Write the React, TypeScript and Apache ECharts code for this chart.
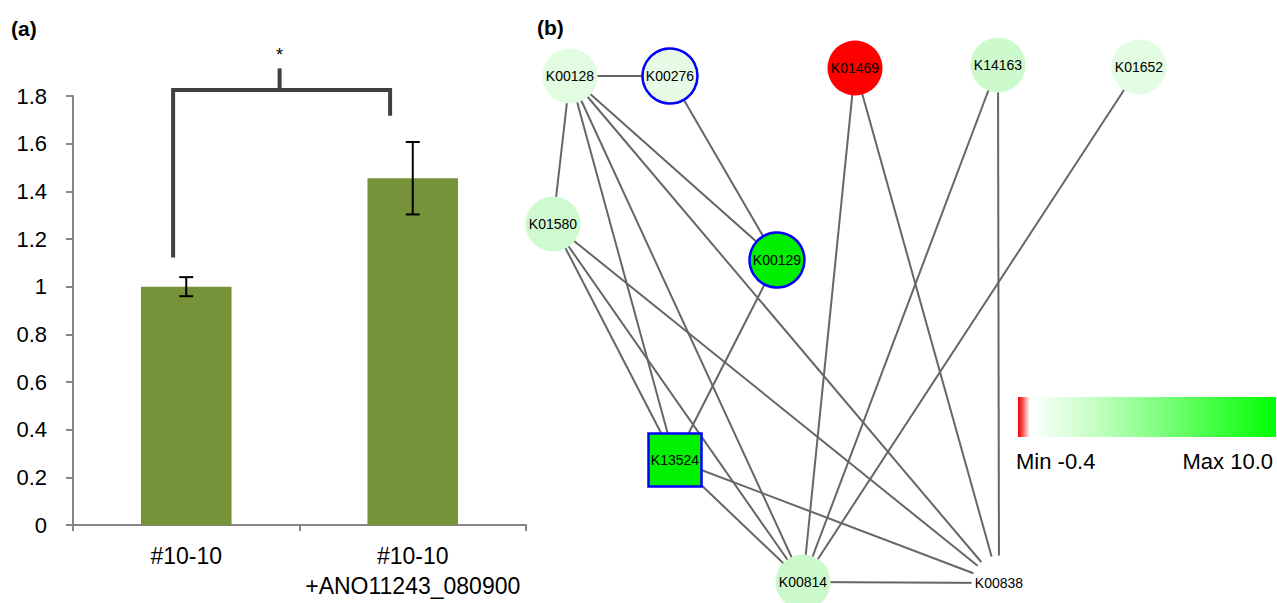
import React, { useEffect, useRef } from "react";
import * as echarts from "echarts";

// ---------- Panel (a) data ----------
const categories = ["#10-10", "#10-10\n+ANO11243_080900"];
const barValues = [1.0, 1.455];
const barErrors = [0.04, 0.152];
const yTicks = { min: 0, max: 1.8, interval: 0.2 };
// significance bracket: [leftBottom, rightBottom, top, midTop, star]
const bracketLevels = [1.122, 1.717, 1.825, 1.916, 2.01];
const bracketLabel = "*";

// ---------- Panel (b) data ----------
const nodeNames = ["K00128", "K00276", "K01580", "K00129", "K01469", "K14163", "K01652", "K13524", "K00814", "K00838"];
const nodeX = [570, 670, 553, 777, 855, 998, 1139, 675, 803, 999];
const nodeY = [76, 76, 224, 260, 68, 65, 67, 460, 582, 583];
const nodeColors = ["#e1fce1", "#e6fae6", "#cffacf", "#00ef00", "#ff0000", "#ccfacc", "#e2fde2", "#00f200", "#ccf9cc", "#ffffff"];
const nodeShapes = ["circle", "circle", "circle", "circle", "circle", "circle", "circle", "rect", "circle", "circle"];
const nodeHighlighted = [false, true, false, true, false, false, false, true, false, false];
const edgeList: [string, string][] = [
  ["K00128", "K00276"], ["K00128", "K01580"], ["K00128", "K13524"], ["K00128", "K00814"],
  ["K00128", "K00838"], ["K00128", "K00129"], ["K00276", "K00129"], ["K01580", "K13524"],
  ["K01580", "K00814"], ["K01580", "K00838"], ["K00129", "K13524"], ["K13524", "K00814"],
  ["K13524", "K00838"], ["K00814", "K00838"], ["K01469", "K00814"], ["K01469", "K00838"],
  ["K14163", "K00814"], ["K14163", "K00838"], ["K01652", "K00814"],
];
const legendMin = "Min -0.4";
const legendMax = "Max 10.0";

const FONT = "'Liberation Sans', Arial, Helvetica, sans-serif";

export default function App() {
  const ref = useRef<HTMLDivElement>(null);
  useEffect(() => {
    if (!ref.current) return;
    const chart = echarts.init(ref.current, undefined, { renderer: "svg" });
    const option: any = {
      animation: false,
      textStyle: { fontFamily: FONT },
      grid: [
        { left: 73, right: 751, top: 96, bottom: 78 },
        { left: 0, right: 0, top: 0, bottom: 0 },
      ],
      xAxis: [
        {
          type: "category",
          gridIndex: 0,
          data: categories,
          axisLine: { lineStyle: { color: "#868686", width: 2 } },
          axisTick: { show: true, length: 6, lineStyle: { color: "#868686", width: 2 } },
          axisLabel: { interval: 0, color: "#000", fontSize: 23, lineHeight: 30, margin: 16, fontFamily: FONT },
        },
        { type: "value", gridIndex: 1, min: 0, max: 1277, show: false },
      ],
      yAxis: [
        {
          type: "value",
          gridIndex: 0,
          min: yTicks.min,
          max: yTicks.max,
          interval: yTicks.interval,
          axisLine: { show: true, lineStyle: { color: "#868686", width: 2 } },
          axisTick: { show: true, length: 7, lineStyle: { color: "#868686", width: 2 } },
          splitLine: { show: false },
          axisLabel: { color: "#000", fontSize: 22, margin: 26, fontFamily: FONT },
        },
        { type: "value", gridIndex: 1, min: 0, max: 603, inverse: true, show: false },
      ],
      series: [
        {
          type: "bar",
          xAxisIndex: 0,
          yAxisIndex: 0,
          data: barValues,
          barWidth: "40%",
          itemStyle: { color: "#779339" },
          silent: true,
        },
        {
          type: "custom",
          xAxisIndex: 0,
          yAxisIndex: 0,
          data: barValues.map((v, i) => [i, v - barErrors[i], v + barErrors[i]]),
          encode: { x: 0, y: [1, 2] },
          silent: true,
          z: 5,
          renderItem: (params: any, api: any) => {
            const i = api.value(0);
            const lo = api.coord([i, api.value(1)]);
            const hi = api.coord([i, api.value(2)]);
            const h = 7;
            const style = { stroke: "#000", lineWidth: 2 };
            return {
              type: "group",
              children: [
                { type: "line", shape: { x1: lo[0], y1: lo[1], x2: hi[0], y2: hi[1] }, style },
                { type: "line", shape: { x1: hi[0] - h, y1: hi[1], x2: hi[0] + h, y2: hi[1] }, style },
                { type: "line", shape: { x1: lo[0] - h, y1: lo[1], x2: lo[0] + h, y2: lo[1] }, style },
              ],
            };
          },
        },
        {
          type: "custom",
          xAxisIndex: 0,
          yAxisIndex: 0,
          data: [[0, ...bracketLevels]],
          encode: { x: 0, y: [1, 2, 3, 4] },
          silent: true,
          z: 5,
          renderItem: (params: any, api: any) => {
            const band = api.size([1, 0])[0];
            const lb = api.coord([0, api.value(1)]);
            const rb = api.coord([1, api.value(2)]);
            const top = api.coord([0, api.value(3)])[1];
            const midTop = api.coord([0, api.value(4)])[1];
            const starY = api.coord([0, api.value(5)])[1];
            const lx = lb[0] - 0.058 * band;
            const rx = rb[0] - 0.1 * band;
            const mx = (lx + rx) / 2 - 2;
            const style = { stroke: "#404040", lineWidth: 4, fill: "none" };
            return {
              type: "group",
              children: [
                { type: "polyline", shape: { points: [[lx, lb[1]], [lx, top], [rx, top], [rx, rb[1]]] }, style },
                { type: "line", shape: { x1: mx, y1: top, x2: mx, y2: midTop }, style },
                {
                  type: "text",
                  x: mx,
                  y: starY,
                  style: { text: bracketLabel, fill: "#000", font: `18px ${FONT}`, align: "center", verticalAlign: "top" },
                },
              ],
            };
          },
        },
        {
          type: "graph",
          layout: "none",
          coordinateSystem: "cartesian2d",
          xAxisIndex: 1,
          yAxisIndex: 1,
          silent: true,
          roam: false,
          data: nodeNames.map((n, i) => ({
            name: n,
            value: [nodeX[i], nodeY[i]],
            symbol: nodeShapes[i],
            symbolSize: nodeShapes[i] === "rect" ? 53 : 55,
            itemStyle: {
              color: nodeColors[i],
              borderColor: nodeHighlighted[i] ? "#0000ff" : "transparent",
              borderWidth: nodeHighlighted[i] ? 2.5 : 0,
            },
          })),
          links: edgeList.map(([s, t]) => ({ source: s, target: t })),
          label: { show: true, position: "inside", color: "#000", fontSize: 14, fontFamily: FONT },
          lineStyle: { color: "#666666", width: 2, opacity: 1, curveness: 0 },
          emphasis: { disabled: true },
        },
      ],
      graphic: [
        { type: "text", left: 11, top: 18, style: { text: "(a)", font: `bold 21px ${FONT}`, fill: "#000" } },
        { type: "text", left: 537, top: 17, style: { text: "(b)", font: `bold 21px ${FONT}`, fill: "#000" } },
        {
          type: "rect",
          shape: { x: 1018, y: 397, width: 258, height: 40 },
          style: {
            fill: new echarts.graphic.LinearGradient(0, 0, 1, 0, [
              { offset: 0, color: "#e80000" },
              { offset: 0.015, color: "#ff4040" },
              { offset: 0.045, color: "#ffffff" },
              { offset: 0.3, color: "#c4ffc4" },
              { offset: 1, color: "#00ff00" },
            ]),
          },
        },
        { type: "text", x: 1016, y: 461, style: { text: legendMin, font: `22px ${FONT}`, fill: "#000", verticalAlign: "middle", align: "left" } },
        { type: "text", x: 1273, y: 461, style: { text: legendMax, font: `22px ${FONT}`, fill: "#000", verticalAlign: "middle", align: "right" } },
      ],
    };
    chart.setOption(option);
    return () => chart.dispose();
  }, []);
  return <div ref={ref} style={{ position: "fixed", left: 0, top: 0, width: 1277, height: 603, background: "#fff" }} />;
}
